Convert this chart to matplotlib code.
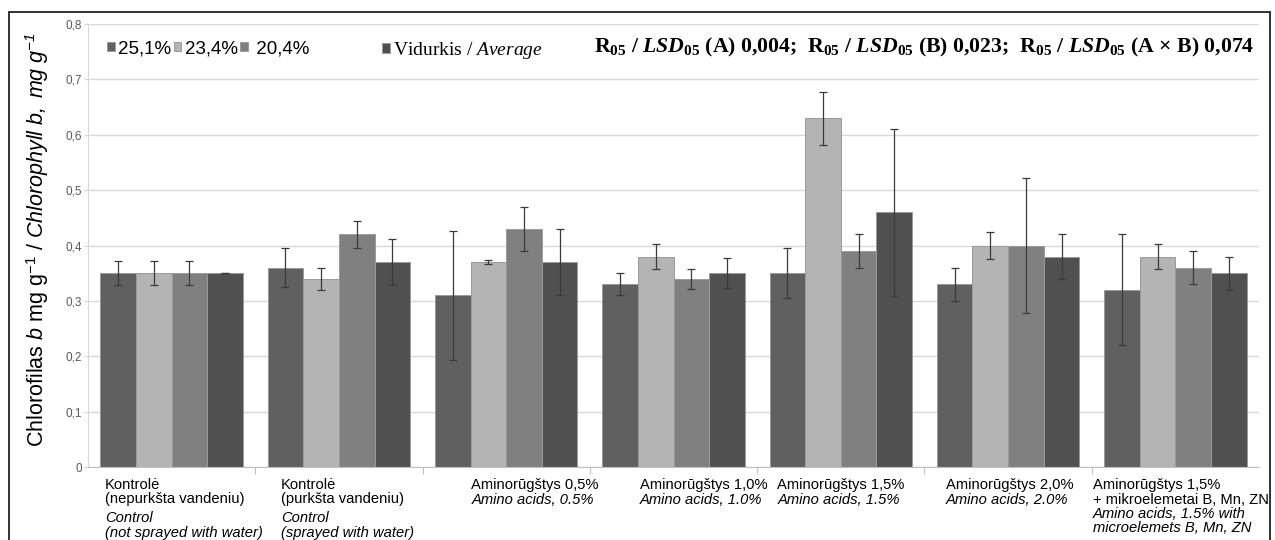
import matplotlib
matplotlib.use("Agg")
import matplotlib.pyplot as plt
import numpy as np
from matplotlib.ticker import FuncFormatter, FixedLocator
from matplotlib.patches import Rectangle

# ---------------- data ----------------
series_names = ["25,1%", "23,4%", " 20,4%", r"Vidurkis / $\mathcal{Average}$"]
lt_labels = [
    ["Kontrolė", "(nepurkšta vandeniu)"],
    ["Kontrolė", "(purkšta vandeniu)"],
    ["Aminorūgštys 0,5%"],
    ["Aminorūgštys 1,0%"],
    ["Aminorūgštys 1,5%"],
    ["Aminorūgštys 2,0%"],
    ["Aminorūgštys 1,5%", "+ mikroelemetai B, Mn, ZN"],
]
en_labels = [
    ["Control", "(not sprayed with water)"],
    ["Control", "(sprayed with water)"],
    ["Amino acids, 0.5%"],
    ["Amino acids, 1.0%"],
    ["Amino acids, 1.5%"],
    ["Amino acids, 2.0%"],
    ["Amino acids, 1.5% with", "microelemets B, Mn, ZN"],
]
v251 = [0.35, 0.36, 0.31, 0.33, 0.35, 0.33, 0.32]
v234 = [0.35, 0.34, 0.37, 0.38, 0.63, 0.40, 0.38]
v204 = [0.35, 0.42, 0.43, 0.34, 0.39, 0.40, 0.36]
vavg = [0.35, 0.37, 0.37, 0.35, 0.46, 0.38, 0.35]
e251 = [0.022, 0.035, 0.117, 0.020, 0.045, 0.030, 0.100]
e234 = [0.022, 0.020, 0.003, 0.022, 0.048, 0.024, 0.022]
e204 = [0.022, 0.025, 0.040, 0.018, 0.030, 0.122, 0.030]
eavg = [0.000, 0.042, 0.060, 0.027, 0.151, 0.040, 0.030]
yticks = [0, 0.1, 0.2, 0.3, 0.4, 0.5, 0.6, 0.7, 0.8]
lsd_text = (r"R$_{\mathbf{05}}$ / $\mathit{LSD}_{\mathbf{05}}$ (A) 0,004;  "
            r"R$_{\mathbf{05}}$ / $\mathit{LSD}_{\mathbf{05}}$ (B) 0,023;  "
            r"R$_{\mathbf{05}}$ / $\mathit{LSD}_{\mathbf{05}}$ (A × B) 0,074")

# ---------------- style ----------------
plt.rcParams['font.family'] = ['Liberation Sans', 'DejaVu Sans']
plt.rcParams['mathtext.fontset'] = 'custom'
plt.rcParams['mathtext.rm'] = 'Liberation Serif:bold'
plt.rcParams['mathtext.bf'] = 'Liberation Serif:bold'
plt.rcParams['mathtext.it'] = 'Liberation Serif:italic:bold'
plt.rcParams['mathtext.cal'] = 'Liberation Serif:italic'
plt.rcParams['mathtext.sf'] = 'Liberation Sans:italic'

colors = ['#606060', '#b4b4b4', '#808080', '#505050']
W, H = 1275, 540
fig = plt.figure(figsize=(12.75, 5.4), dpi=100)
L, R, B, T = 88, 1259, 467, 24
ax = fig.add_axes([L / W, 1 - B / H, (R - L) / W, (B - T) / H])
fx = lambda px: (px - L) / (R - L)
fy = lambda py: (B - py) / (B - T)

n = len(lt_labels)
x = np.arange(n)
bw = 0.213
vals = [v251, v234, v204, vavg]
errs = [e251, e234, e204, eavg]
handles = []
for k in range(4):
    pos = x + (k - 1.5) * bw
    bars = ax.bar(pos, vals[k], bw, color=colors[k], edgecolor='#9a9a9a',
                  linewidth=0.7, zorder=2)
    handles.append(bars)
    ax.errorbar(pos, vals[k], yerr=errs[k], fmt='none', ecolor='#3a3a3a',
                elinewidth=0.9, capsize=3.2, capthick=0.9, zorder=3)

ax.set_xlim(-0.5, n - 0.5)
ax.set_ylim(0, 0.8)
ax.set_yticks(yticks)
ax.yaxis.set_major_formatter(FuncFormatter(
    lambda v, p: '0' if abs(v) < 1e-9 else f"{v:.1f}".replace('.', ',')))
ax.tick_params(axis='y', labelsize=8.5, labelcolor='#595959', color='#d9d9d9',
               length=3, width=0.8, pad=1.5)
ax.grid(axis='y', color='#d9d9d9', linewidth=1.0, zorder=0)
ax.set_axisbelow(True)
ax.set_xticks([])
ax.xaxis.set_minor_locator(FixedLocator(np.arange(0.5, n - 0.5, 1.0)))
ax.tick_params(axis='x', which='minor', length=5, color='#bfbfbf', width=0.8,
               direction='out')
for s in ['top', 'right']:
    ax.spines[s].set_visible(False)
ax.spines['left'].set_color('#d9d9d9')
ax.spines['bottom'].set_color('#bfbfbf')

# y label
ax.set_ylabel(r"Chlorofilas $\mathsf{b}$ mg g$^{\mathregular{-1}}$ / "
              r"$\mathsf{Chlorophyll\ b,\ mg\ g^{-1}}$", fontsize=15.5)
ax.yaxis.set_label_coords(fx(51), fy(240))

# category labels (left edges of each label block, in category units)
label_off = [-0.398, -0.346, -0.209, -0.199, -0.379, -0.374, -0.495]
px2pt = 0.72
first_base = 22 * px2pt
pitch = 14.5 * px2pt
trans = ax.get_xaxis_transform()
for i in range(n):
    lines = [(s, 'normal') for s in lt_labels[i]] + [(s, 'italic') for s in en_labels[i]]
    extra = 4 * px2pt if i < 2 else 0
    for j, (s, st) in enumerate(lines):
        dy = first_base + j * pitch + (extra if st == 'italic' else 0)
        ax.annotate(s, xy=(i + label_off[i], 0), xycoords=trans,
                    xytext=(0, -dy), textcoords='offset points',
                    ha='left', va='baseline', fontsize=10.6, style=st,
                    color='#000000', annotation_clip=False)

# legends
leg1 = ax.legend(handles[:3], series_names[:3], loc='upper left', ncol=3,
                 bbox_to_anchor=(fx(107), fy(40)),
                 frameon=False, fontsize=13.5, handlelength=0.4,
                 handleheight=0.4, handletextpad=0.2, columnspacing=0.12,
                 borderpad=0.0, borderaxespad=0.0)
ax.add_artist(leg1)
leg2 = ax.legend(handles[3:], series_names[3:], loc='upper left', ncol=1,
                 bbox_to_anchor=(fx(382), fy(40)),
                 frameon=False, handlelength=0.4,
                 handleheight=0.4, handletextpad=0.15,
                 borderpad=0.0, borderaxespad=0.0,
                 prop={'family': 'Liberation Serif', 'size': 14})

# LSD text
ax.text(fx(1254), fy(47), lsd_text, transform=ax.transAxes,
        ha='right', va='center', fontsize=15.7, fontfamily='Liberation Serif',
        fontweight='bold')

# outer frame
fig.patches.append(Rectangle((9 / W, -0.2), (1270 - 9) / W, 1.2 - 12 / H,
                             transform=fig.transFigure, fill=False,
                             edgecolor='#222222', linewidth=1.3, clip_on=False))

fig.savefig("out.png", dpi=100)
